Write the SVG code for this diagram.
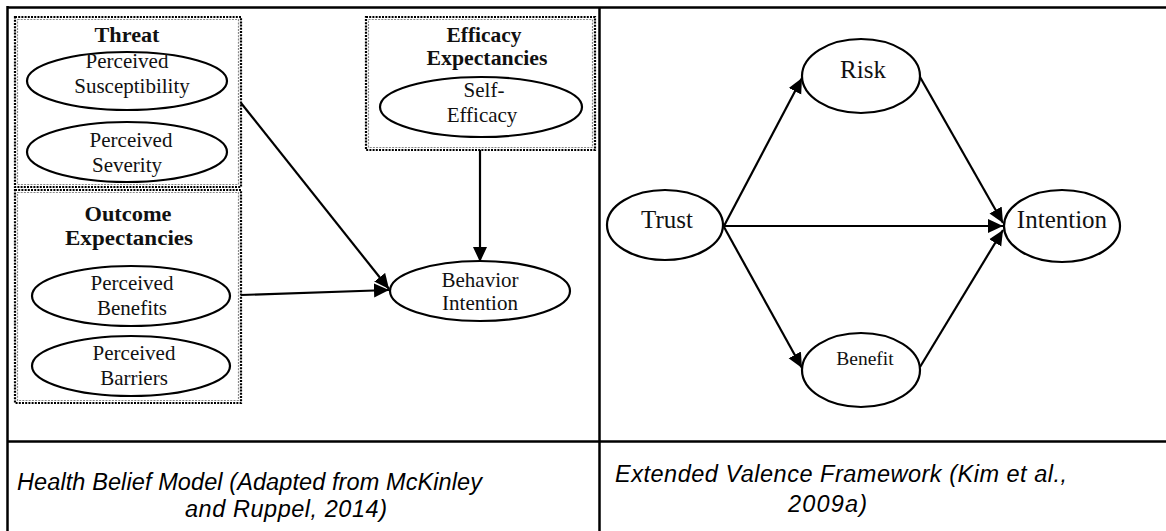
<svg xmlns="http://www.w3.org/2000/svg" width="1166" height="531" viewBox="0 0 1166 531">
<style>
.frame{stroke:#000;stroke-width:2.5;fill:none}
.dot{fill:none;stroke:#000;stroke-width:2.2;stroke-dasharray:2 1.2}
.dot2{fill:none;stroke:#888;stroke-width:1.2;stroke-dasharray:2 1.2}
.ell{fill:#fff;stroke:#000;stroke-width:2.2}
.t{font-family:"Liberation Serif","Times New Roman",serif;font-size:21px;fill:#111;text-anchor:middle}
.tb{font-family:"Liberation Serif","Times New Roman",serif;font-size:20px;font-weight:bold;fill:#111;text-anchor:middle}
.big{font-size:25px}
.cap{font-family:"Liberation Sans",Arial,sans-serif;font-style:italic;font-size:23.5px;fill:#000}
.edge{stroke:#000;stroke-width:2.2;fill:none;marker-end:url(#ah)}
</style>
<defs>
<marker id="ah" markerUnits="userSpaceOnUse" markerWidth="16" markerHeight="16" viewBox="0 0 16 16" refX="15" refY="8" orient="auto">
<path d="M0,1 L15,8 L0,15 Z" fill="#000"/>
</marker>
</defs>
<rect width="1166" height="531" fill="#fff"/>
<g id="frame">
<line class="frame" x1="7.5" y1="7.5" x2="1166" y2="7.5"/>
<line class="frame" x1="7.5" y1="6" x2="7.5" y2="531"/>
<line class="frame" x1="599.5" y1="7" x2="599.5" y2="531"/>
<line class="frame" x1="7" y1="441.5" x2="1166" y2="441.5"/>
</g>
<g id="threat-box">
<rect class="dot" x="15" y="17" width="226" height="170"/>
<rect class="dot2" x="17.5" y="19.5" width="221" height="165"/>
<text class="tb" x="127" y="42" textLength="65" lengthAdjust="spacingAndGlyphs">Threat</text>
</g>
<g id="outcome-box">
<rect class="dot" x="15" y="190" width="226" height="213"/>
<rect class="dot2" x="17.5" y="192.5" width="221" height="208"/>
<text class="tb" x="128" y="221" textLength="87" lengthAdjust="spacingAndGlyphs">Outcome</text>
<text class="tb" x="129" y="245" textLength="128" lengthAdjust="spacingAndGlyphs">Expectancies</text>
</g>
<g id="efficacy-box">
<rect class="dot" x="366" y="17" width="229" height="133"/>
<rect class="dot2" x="368.5" y="19.5" width="224" height="128"/>
<text class="tb" x="484" y="42" textLength="75" lengthAdjust="spacingAndGlyphs">Efficacy</text>
<text class="tb" x="487" y="65" textLength="121" lengthAdjust="spacingAndGlyphs">Expectancies</text>
</g>
<g id="connectors">
<line class="edge" x1="241" y1="103" x2="389" y2="289"/>
<line class="edge" x1="241" y1="295" x2="389" y2="290"/>
<line class="edge" x1="480" y1="150" x2="480" y2="262"/>
<line class="edge" x1="724" y1="226" x2="802" y2="78"/>
<line class="edge" x1="724" y1="226" x2="1003" y2="226"/>
<line class="edge" x1="724" y1="227" x2="802" y2="368"/>
<line class="edge" x1="920" y1="77" x2="1003" y2="223"/>
<line class="edge" x1="920" y1="367" x2="1003" y2="230"/>
</g>
<g id="perceived-susceptibility">
<ellipse class="ell" cx="127" cy="81" rx="100" ry="29"/>
<text class="t" x="127" y="68">Perceived</text>
<text class="t" x="132" y="93">Susceptibility</text>
</g>
<g id="perceived-severity">
<ellipse class="ell" cx="127" cy="152" rx="100" ry="30"/>
<text class="t" x="131" y="147">Perceived</text>
<text class="t" x="127" y="172">Severity</text>
</g>
<g id="perceived-benefits">
<ellipse class="ell" cx="131" cy="296" rx="99" ry="30"/>
<text class="t" x="132" y="290">Perceived</text>
<text class="t" x="132" y="315">Benefits</text>
</g>
<g id="perceived-barriers">
<ellipse class="ell" cx="131" cy="366" rx="99" ry="30"/>
<text class="t" x="134" y="360">Perceived</text>
<text class="t" x="134" y="385">Barriers</text>
</g>
<g id="self-efficacy">
<ellipse class="ell" cx="481" cy="107" rx="101" ry="30"/>
<text class="t" x="484" y="97">Self-</text>
<text class="t" x="482" y="122">Efficacy</text>
</g>
<g id="behavior-intention">
<ellipse class="ell" cx="480" cy="291" rx="90" ry="30"/>
<text class="t" x="480" y="287">Behavior</text>
<text class="t" x="480" y="310">Intention</text>
</g>
<g id="trust">
<ellipse class="ell" cx="665" cy="225" rx="58" ry="35"/>
<text class="t big" x="667" y="228">Trust</text>
</g>
<g id="risk">
<ellipse class="ell" cx="861" cy="76" rx="59" ry="37"/>
<text class="t big" x="863" y="78">Risk</text>
</g>
<g id="intention">
<ellipse class="ell" cx="1062" cy="226" rx="58" ry="36"/>
<text class="t big" x="1062" y="228">Intention</text>
</g>
<g id="benefit">
<ellipse class="ell" cx="861" cy="370" rx="59" ry="37"/>
<text class="t" x="865" y="365" style="font-size:19.5px">Benefit</text>
</g>
<g id="captions">
<text class="cap" x="17" y="490" textLength="465" lengthAdjust="spacing">Health Belief Model (Adapted from McKinley</text>
<text class="cap" x="185" y="517" textLength="202" lengthAdjust="spacing">and Ruppel, 2014)</text>
<text class="cap" x="615" y="482" textLength="452" lengthAdjust="spacing">Extended Valence Framework (Kim et al.,</text>
<text class="cap" x="788" y="512" textLength="79" lengthAdjust="spacing">2009a)</text>
</g>
</svg>
